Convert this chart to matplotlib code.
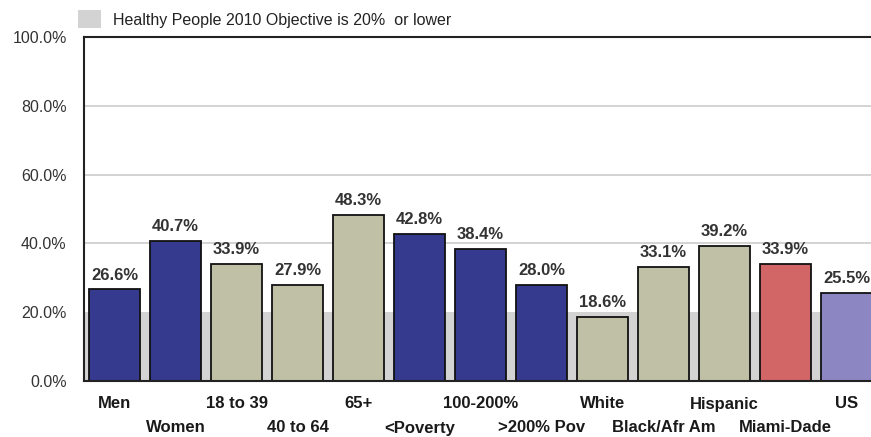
import matplotlib
matplotlib.use("Agg")
import matplotlib.pyplot as plt
from matplotlib.patches import Rectangle

categories = ["Men", "Women", "18 to 39", "40 to 64", "65+", "<Poverty", "100-200%",
              ">200% Pov", "White", "Black/Afr Am", "Hispanic", "Miami-Dade", "US"]
values = [26.6, 40.7, 33.9, 27.9, 48.3, 42.8, 38.4, 28.0, 18.6, 33.1, 39.2, 33.9, 25.5]
bar_colors = ["#363a8e", "#363a8e", "#c0c0a6", "#c0c0a6", "#c0c0a6", "#363a8e", "#363a8e",
              "#363a8e", "#c0c0a6", "#c0c0a6", "#c0c0a6", "#d26565", "#8c87c3"]
yticks = [0, 20, 40, 60, 80, 100]
objective = 20
legend_text = "Healthy People 2010 Objective is 20%  or lower"

plt.rcParams['font.family'] = ["Liberation Sans", "DejaVu Sans"]

W, H = 871, 437
fig = plt.figure(figsize=(W / 100, H / 100), dpi=100)
left, right, top, bottom = 84, 877, 37, 381
ax = fig.add_axes([left / W, 1 - bottom / H, (right - left) / W, (bottom - top) / H])

x = list(range(len(categories)))
ax.set_xlim(-0.5, len(categories) - 0.5)
ax.set_ylim(0, 100)

# objective band
ax.axhspan(0, objective, color="#d3d3d3", zorder=0, lw=0)
for t in yticks[2:-1]:
    ax.axhline(t, color="#cccccc", lw=1.2, zorder=0.5)

ax.bar(x, values, width=0.85, color=bar_colors, edgecolor="#111111", linewidth=1.3, zorder=2)
for xi, v in zip(x, values):
    ax.annotate(f"{v:.1f}%", (xi, v), xytext=(0, 5), textcoords="offset points",
                ha="center", va="bottom", fontsize=12, fontweight="bold", color="#333333")

ax.set_yticks(yticks)
ax.set_yticklabels([f"{t:.1f}%" for t in yticks], fontsize=11.5, color="#333333")
ax.tick_params(axis="y", length=0, pad=12.5)
ax.set_xticks(x)
ax.set_xticklabels([])
ax.tick_params(axis="x", length=0)
for xi, c in zip(x, categories):
    dy = 23 if xi % 2 == 0 else 47
    ax.annotate(c, (xi, 0), xytext=(0, -dy), textcoords="offset pixels", ha="center",
                va="center", fontsize=12, fontweight="bold", color="#1a1a1a",
                annotation_clip=False)

for s in ["left", "bottom", "top"]:
    ax.spines[s].set_linewidth(1.5)
    ax.spines[s].set_color("#222222")
ax.spines["right"].set_visible(False)

# legend
fig.patches.append(Rectangle((78 / W, 1 - 28 / H), 23 / W, 18 / H, transform=fig.transFigure,
                             facecolor="#d3d3d3", edgecolor="none"))
fig.text(113 / W, 1 - 20 / H, legend_text, ha="left", va="center", fontsize=11.5, color="#222222")

fig.savefig("out.png", dpi=100)
